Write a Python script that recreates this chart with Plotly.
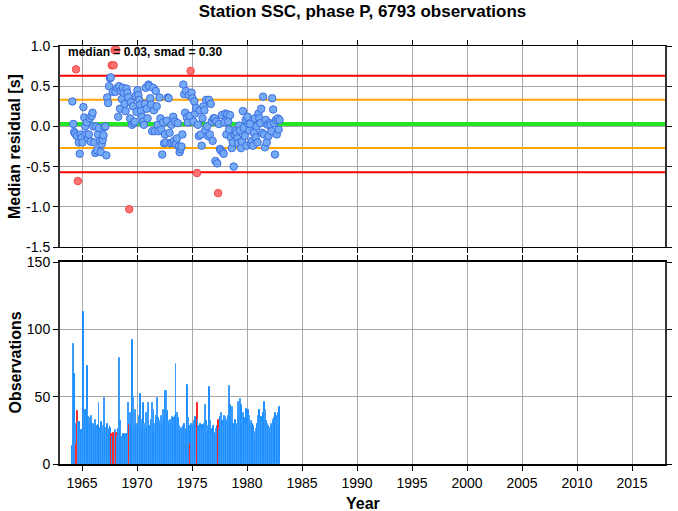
import plotly.graph_objects as go

# ---------------- data ----------------
TITLE = "Station SSC, phase P, 6793 observations"
MEDIAN = 0.03
SMAD = 0.30
START_YEAR = 1964
START_MONTH = 2  # February 1964

res_1964 = [0.31, 0.03, -0.07, -0.09, 0.71, -0.12, -0.68, -0.20, -0.34, -0.10, -0.14]
res_1965 = [-0.20, 0.24, 0.11, 0.00, -0.10, 0.05, -0.15, -0.10, 0.10, -0.19, 0.13, 0.17]
res_1966 = [0.00, -0.20, -0.33, 0.00, -0.30, -0.10, -0.02, -0.18, -0.32, -0.22, -0.17, -0.11]
res_1967 = [-0.01, 0.00, -0.36, 0.36, 0.29, 0.50, 0.60, 0.61, 0.76, 0.43, 0.76, 0.95]
res_1968 = [0.43, 0.95, 0.48, 0.12, 0.50, 0.22, 0.44, 0.34, 0.48, 0.42, 0.28, 0.19]
res_1969 = [0.47, 0.42, 0.36, -1.03, 0.10, 0.30, 0.02, 0.25, 0.04, 0.06, 0.38, 0.18]
res_1970 = [0.45, 0.39, 0.33, 0.27, 0.19, 0.12, 0.06, 0.02, 0.28, 0.48, 0.22, 0.10]
res_1971 = [0.52, 0.50, 0.35, 0.27, -0.06, 0.48, 0.20, -0.06, 0.44, 0.25, 0.02, -0.06]
res_1972 = [0.36, 0.10, -0.04, -0.35, 0.05, -0.21, -0.10, -0.20, 0.07, 0.36, 0.35, -0.08]
res_1973 = [-0.21, 0.02, -0.20, 0.12, -0.18, 0.06, -0.22, -0.15, 0.04, -0.25, -0.32, -0.28]
res_1974 = [-0.25, -0.10, 0.52, 0.40, 0.17, 0.44, 0.11, 0.05, 0.39, 0.13, 0.69, 0.42]
res_1975 = [0.35, 0.06, 0.31, 0.16, 0.23, -0.58, 0.02, -0.12, 0.20, -0.10, -0.24, 0.10]
res_1976 = [0.25, 0.20, -0.05, 0.33, 0.00, -0.12, 0.33, -0.10, 0.28, 0.06, -0.18, 0.10]
res_1977 = [0.10, -0.43, 0.06, -0.46, -0.83, 0.03, -0.28, -0.30, 0.14, -0.32, -0.34, 0.05]
res_1978 = [0.16, -0.10, 0.15, 0.06, -0.04, 0.14, -0.14, -0.27, -0.20, -0.50, -0.10, -0.05]
res_1979 = [-0.08, -0.15, -0.21, 0.01, -0.05, -0.27, -0.19, 0.19, -0.02, -0.12, 0.08, -0.24]
res_1980 = [0.12, 0.03, -0.05, 0.03, -0.22, -0.18, -0.24, -0.08, 0.10, -0.14, 0.00, -0.20]
res_1981 = [0.16, 0.10, 0.04, 0.22, -0.08, 0.37, -0.10, -0.26, 0.08, -0.20, 0.02, -0.12]
res_1982 = [0.04, 0.02, -0.06, 0.35, 0.21, 0.04, -0.35, 0.08, -0.10, 0.10, -0.04, 0.08]

cnt_1964 = [13, 89, 67, 30, 14, 30, 39, 31, 31, 22, 25]
cnt_1965 = [22, 113, 39, 40, 36, 73, 40, 35, 34, 30, 36, 30]
cnt_1966 = [30, 28, 33, 28, 26, 29, 45, 27, 24, 31, 28, 22]
cnt_1967 = [49, 27, 25, 30, 26, 24, 28, 27, 22, 20, 23, 22]
cnt_1968 = [25, 23, 20, 26, 79, 32, 30, 20, 19, 22, 18, 22]
cnt_1969 = [20, 22, 45, 29, 38, 30, 35, 92, 50, 27, 40, 30]
cnt_1970 = [30, 28, 36, 52, 33, 26, 40, 45, 30, 26, 38, 27]
cnt_1971 = [45, 28, 26, 33, 45, 30, 40, 24, 30, 36, 49, 34]
cnt_1972 = [32, 30, 36, 28, 40, 33, 30, 54, 54, 39, 32, 30]
cnt_1973 = [33, 30, 35, 34, 33, 36, 74, 38, 38, 34, 28, 25]
cnt_1974 = [27, 25, 28, 30, 26, 24, 36, 59, 34, 28, 15, 30]
cnt_1975 = [30, 28, 32, 35, 27, 45, 33, 28, 23, 30, 26, 29]
cnt_1976 = [25, 30, 44, 32, 28, 24, 30, 57, 32, 26, 22, 28]
cnt_1977 = [23, 22, 26, 28, 33, 25, 30, 35, 38, 32, 28, 36]
cnt_1978 = [35, 31, 33, 36, 58, 44, 38, 35, 42, 30, 25, 33]
cnt_1979 = [30, 28, 46, 35, 48, 44, 32, 30, 38, 34, 29, 41]
cnt_1980 = [30, 40, 36, 28, 32, 30, 27, 28, 24, 17, 26, 30]
cnt_1981 = [36, 40, 34, 35, 31, 38, 35, 46, 40, 32, 30, 28]
cnt_1982 = [27, 23, 30, 28, 33, 34, 35, 38, 33, 36, 38, 42]

X_RANGE = [1963, 2018]
X_TICKS = [1965, 1970, 1975, 1980, 1985, 1990, 1995, 2000, 2005, 2010, 2015]
Y1_TICKS = [-1.5, -1.0, -0.5, 0.0, 0.5, 1.0]
Y1_LABELS = ["-1.5", "-1.0", "-0.5", "0.0", "0.5", "1.0"]
Y2_TICKS = [0, 50, 100, 150]

# ---------------- assemble ----------------
res_years = [res_1964, res_1965, res_1966, res_1967, res_1968, res_1969, res_1970,
             res_1971, res_1972, res_1973, res_1974, res_1975, res_1976, res_1977,
             res_1978, res_1979, res_1980, res_1981, res_1982]
cnt_years = [cnt_1964, cnt_1965, cnt_1966, cnt_1967, cnt_1968, cnt_1969, cnt_1970,
             cnt_1971, cnt_1972, cnt_1973, cnt_1974, cnt_1975, cnt_1976, cnt_1977,
             cnt_1978, cnt_1979, cnt_1980, cnt_1981, cnt_1982]

t, res, cnt = [], [], []
for i, (ry, cy) in enumerate(zip(res_years, cnt_years)):
    year = START_YEAR + i
    first = START_MONTH if i == 0 else 1
    for k, (r, c) in enumerate(zip(ry, cy)):
        m = first + k
        t.append(year + (m - 0.5) / 12.0)
        res.append(r)
        cnt.append(c)

upper = MEDIAN + 2 * SMAD
lower = MEDIAN - 2 * SMAD
outlier = [(r > upper or r < lower) for r in res]

FONT = "Liberation Sans, Arial, Helvetica, sans-serif"

fig = go.Figure()

# reference lines (top panel)
def hline(y, color, width):
    fig.add_trace(go.Scatter(x=X_RANGE, y=[y, y], mode="lines",
                             line=dict(color=color, width=width),
                             hoverinfo="skip", showlegend=False,
                             xaxis="x", yaxis="y"))

hline(upper, "#ff0000", 2)
hline(lower, "#ff0000", 2)
hline(MEDIAN + SMAD, "#ffa500", 2)
hline(MEDIAN - SMAD, "#ffa500", 2)
hline(MEDIAN, "#22e622", 4)

# points
bt = [x for x, o in zip(t, outlier) if not o]
br = [r for r, o in zip(res, outlier) if not o]
rt = [x for x, o in zip(t, outlier) if o]
rr = [r for r, o in zip(res, outlier) if o]
fig.add_trace(go.Scatter(x=bt, y=br, mode="markers",
                         marker=dict(size=7.5, color="#74a9f4",
                                     line=dict(color="#3d6fe3", width=1)),
                         showlegend=False, xaxis="x", yaxis="y"))
fig.add_trace(go.Scatter(x=rt, y=rr, mode="markers",
                         marker=dict(size=7.5, color="#ff7272",
                                     line=dict(color="#f04a4a", width=1)),
                         showlegend=False, xaxis="x", yaxis="y"))

# bars (two blue tones as in the reference rendering)
bar_colors = ["#ff2a2a" if o else ("#1e90ff" if j % 2 == 0 else "#3a9cff")
              for j, o in enumerate(outlier)]
fig.add_trace(go.Bar(x=t, y=cnt, width=1 / 12.0,
                     marker=dict(color=bar_colors, line=dict(width=1, color=bar_colors)),
                     showlegend=False, xaxis="x2", yaxis="y2"))

axis_common = dict(
    showline=True, linecolor="#000000", mirror="ticks",
    ticks="outside", ticklen=5, tickcolor="#000000", tickwidth=1,
    showgrid=True, gridcolor="#a8a8a8", gridwidth=1, zeroline=False,
    tickfont=dict(family=FONT, size=14, color="#000000"),
)

fig.update_layout(
    width=678, height=511,
    margin=dict(l=60, r=6, t=46, b=47),
    paper_bgcolor="white", plot_bgcolor="white",
    bargap=0,
    title=dict(text=f"<b>{TITLE}</b>", x=0.5, xref="paper", xanchor="center",
               y=1 - 11 / 511, yref="container", yanchor="middle",
               font=dict(family=FONT, size=17, color="#000000")),
    xaxis=dict(domain=[0, 1], range=X_RANGE, tickvals=X_TICKS, showticklabels=False,
               anchor="y", linewidth=1.2, **axis_common),
    yaxis=dict(domain=[(464 - 247) / 418, 1], range=[-1.5, 1.0], tickvals=Y1_TICKS,
               ticktext=Y1_LABELS, anchor="x", linewidth=2,
               **{**axis_common, "linecolor": "#333333"}),
    xaxis2=dict(domain=[0, 1], range=X_RANGE, tickvals=X_TICKS, anchor="y2",
                linewidth=1.5, **axis_common),
    yaxis2=dict(domain=[0, (464 - 262) / 418], range=[0, 150], tickvals=Y2_TICKS,
                anchor="x2", linewidth=2, **{**axis_common, "linecolor": "#333333"}),
    annotations=[
        dict(text="<b>median = 0.03, smad = 0.30</b>", xref="paper", yref="paper",
             x=(66 - 60) / 612, y=(464 - 52) / 418, xanchor="left", yanchor="middle",
             showarrow=False, font=dict(family=FONT, size=12, color="#000000")),
        dict(text="<b>Median residual [s]</b>", xref="paper", yref="paper",
             x=(14 - 60) / 612, y=(464 - 146.5) / 418, xanchor="center", yanchor="middle",
             textangle=-90, showarrow=False, font=dict(family=FONT, size=16, color="#000000")),
        dict(text="<b>Observations</b>", xref="paper", yref="paper",
             x=(14 - 60) / 612, y=(464 - 363) / 418, xanchor="center", yanchor="middle",
             textangle=-90, showarrow=False, font=dict(family=FONT, size=16, color="#000000")),
        dict(text="<b>Year</b>", xref="paper", yref="paper",
             x=0.5, y=-(503 - 464) / 418, xanchor="center", yanchor="middle",
             showarrow=False, font=dict(family=FONT, size=16, color="#000000")),
    ],
)

fig.write_html("out.html", config={"displayModeBar": False},
               post_script="document.body.style.margin='0';document.body.style.overflow='hidden';")
